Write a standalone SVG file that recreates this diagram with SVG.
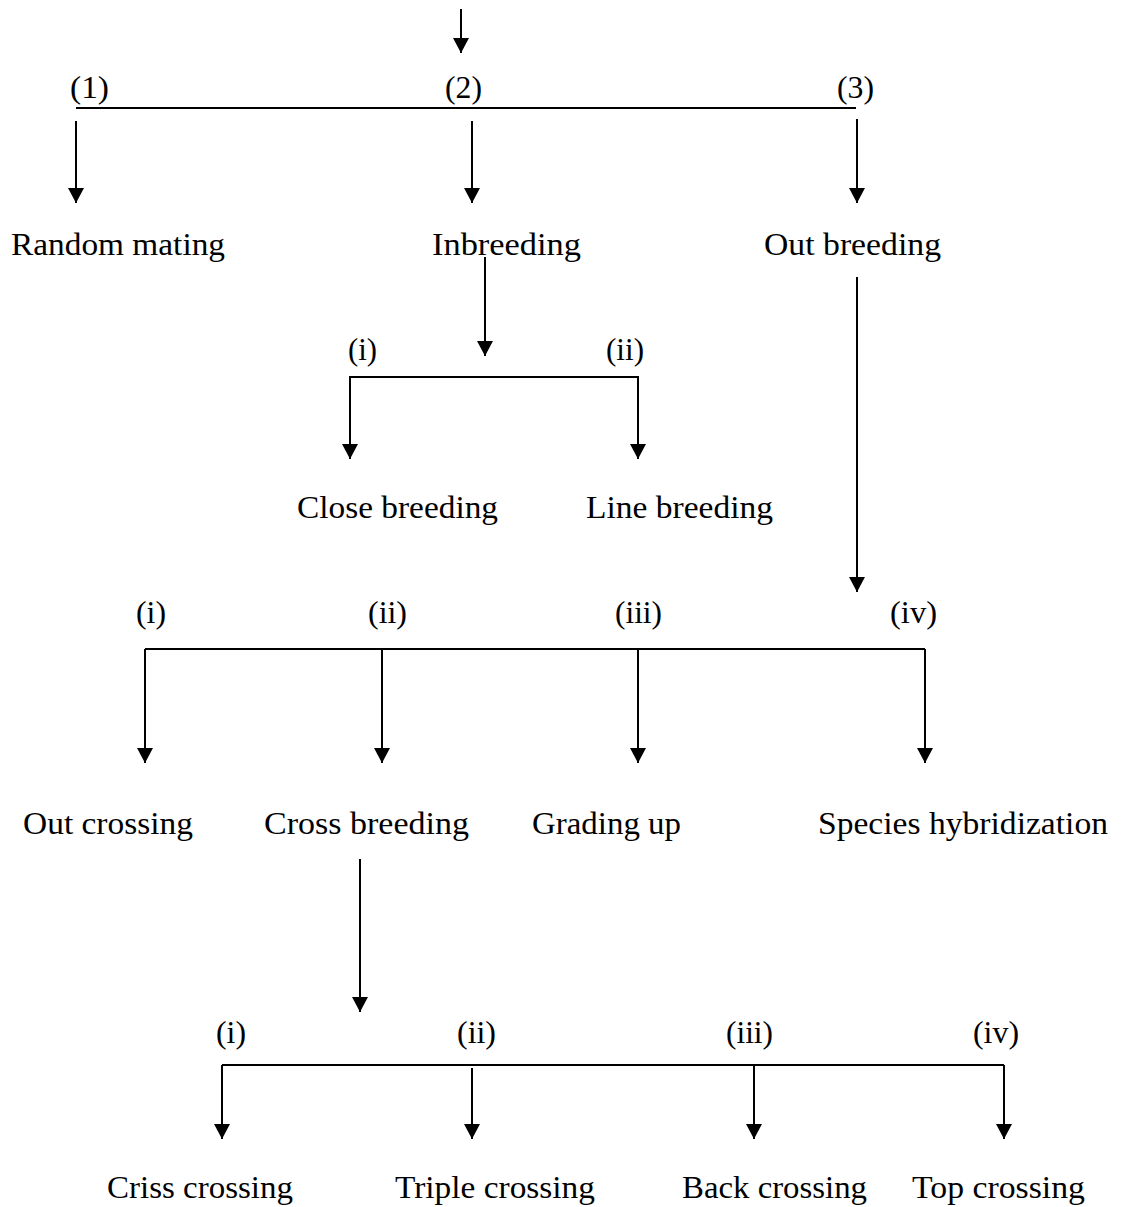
<svg xmlns="http://www.w3.org/2000/svg" width="1122" height="1207" viewBox="0 0 1122 1207">
  <style>
    .lbl { font-family: "Liberation Serif", "Times New Roman", serif; font-size: 32px; fill: #000; }
    .wire { stroke: #000; stroke-width: 2; fill: none; }
    .arrow { stroke: #000; stroke-width: 2; fill: none; marker-end: url(#head); }
  </style>
  <defs>
    <marker id="head" markerUnits="userSpaceOnUse" markerWidth="16" markerHeight="16" refX="15" refY="8" orient="auto">
      <path d="M0,0 L15,8 L0,16 Z" fill="#000"/>
    </marker>
  </defs>
  <rect width="1122" height="1207" fill="#fff"/>

  <!-- connectors -->
  <g id="connectors">
    <line class="arrow" x1="461" y1="9" x2="461" y2="53"/>
    <line class="wire" x1="76" y1="108" x2="856" y2="108"/>
    <line class="arrow" x1="76" y1="121" x2="76" y2="203"/>
    <line class="arrow" x1="472" y1="121" x2="472" y2="203"/>
    <line class="arrow" x1="857" y1="119" x2="857" y2="203"/>

    <line class="arrow" x1="485" y1="257" x2="485" y2="356"/>
    <path class="wire" d="M350,459 V377 H638 V459"/>
    <line class="arrow" x1="350" y1="378" x2="350" y2="459"/>
    <line class="arrow" x1="638" y1="378" x2="638" y2="459"/>

    <line class="arrow" x1="857" y1="277" x2="857" y2="592"/>
    <line class="wire" x1="145" y1="649" x2="925" y2="649"/>
    <line class="arrow" x1="145" y1="649" x2="145" y2="763"/>
    <line class="arrow" x1="382" y1="649" x2="382" y2="763"/>
    <line class="arrow" x1="638" y1="649" x2="638" y2="763"/>
    <line class="arrow" x1="925" y1="649" x2="925" y2="763"/>

    <line class="arrow" x1="360" y1="859" x2="360" y2="1012"/>
    <line class="wire" x1="222" y1="1065" x2="1004" y2="1065"/>
    <line class="arrow" x1="222" y1="1065" x2="222" y2="1139"/>
    <line class="arrow" x1="472" y1="1068" x2="472" y2="1139"/>
    <line class="arrow" x1="754" y1="1065" x2="754" y2="1139"/>
    <line class="arrow" x1="1004" y1="1065" x2="1004" y2="1139"/>
  </g>

  <!-- branch numbers -->
  <g id="idx-1"><text class="lbl" x="70" y="98" textLength="39" lengthAdjust="spacingAndGlyphs">(1)</text></g>
  <g id="idx-2"><text class="lbl" x="445" y="98" textLength="37" lengthAdjust="spacingAndGlyphs">(2)</text></g>
  <g id="idx-3"><text class="lbl" x="837" y="98" textLength="37" lengthAdjust="spacingAndGlyphs">(3)</text></g>

  <!-- first level -->
  <g id="random-mating"><text class="lbl" x="11" y="255" textLength="214" lengthAdjust="spacingAndGlyphs">Random mating</text></g>
  <g id="inbreeding"><text class="lbl" x="432" y="255" textLength="149" lengthAdjust="spacingAndGlyphs">Inbreeding</text></g>
  <g id="out-breeding"><text class="lbl" x="764" y="255" textLength="177" lengthAdjust="spacingAndGlyphs">Out breeding</text></g>

  <!-- inbreeding branches -->
  <g id="ib-i"><text class="lbl" x="348" y="360" textLength="29" lengthAdjust="spacingAndGlyphs">(i)</text></g>
  <g id="ib-ii"><text class="lbl" x="606" y="360" textLength="38" lengthAdjust="spacingAndGlyphs">(ii)</text></g>
  <g id="close-breeding"><text class="lbl" x="297" y="518" textLength="201" lengthAdjust="spacingAndGlyphs">Close breeding</text></g>
  <g id="line-breeding"><text class="lbl" x="586" y="518" textLength="187" lengthAdjust="spacingAndGlyphs">Line breeding</text></g>

  <!-- out breeding branches -->
  <g id="ob-i"><text class="lbl" x="136" y="623" textLength="30" lengthAdjust="spacingAndGlyphs">(i)</text></g>
  <g id="ob-ii"><text class="lbl" x="368" y="623" textLength="39" lengthAdjust="spacingAndGlyphs">(ii)</text></g>
  <g id="ob-iii"><text class="lbl" x="615" y="623" textLength="47" lengthAdjust="spacingAndGlyphs">(iii)</text></g>
  <g id="ob-iv"><text class="lbl" x="890" y="623" textLength="47" lengthAdjust="spacingAndGlyphs">(iv)</text></g>
  <g id="out-crossing"><text class="lbl" x="23" y="834" textLength="170" lengthAdjust="spacingAndGlyphs">Out crossing</text></g>
  <g id="cross-breeding"><text class="lbl" x="264" y="834" textLength="205" lengthAdjust="spacingAndGlyphs">Cross breeding</text></g>
  <g id="grading-up"><text class="lbl" x="532" y="834" textLength="149" lengthAdjust="spacingAndGlyphs">Grading up</text></g>
  <g id="species-hybridization"><text class="lbl" x="818" y="834" textLength="290" lengthAdjust="spacingAndGlyphs">Species hybridization</text></g>

  <!-- cross breeding branches -->
  <g id="cb-i"><text class="lbl" x="216" y="1043" textLength="30" lengthAdjust="spacingAndGlyphs">(i)</text></g>
  <g id="cb-ii"><text class="lbl" x="457" y="1043" textLength="39" lengthAdjust="spacingAndGlyphs">(ii)</text></g>
  <g id="cb-iii"><text class="lbl" x="726" y="1043" textLength="47" lengthAdjust="spacingAndGlyphs">(iii)</text></g>
  <g id="cb-iv"><text class="lbl" x="973" y="1043" textLength="46" lengthAdjust="spacingAndGlyphs">(iv)</text></g>
  <g id="criss-crossing"><text class="lbl" x="107" y="1198" textLength="186" lengthAdjust="spacingAndGlyphs">Criss crossing</text></g>
  <g id="triple-crossing"><text class="lbl" x="395" y="1198" textLength="200" lengthAdjust="spacingAndGlyphs">Triple crossing</text></g>
  <g id="back-crossing"><text class="lbl" x="682" y="1198" textLength="185" lengthAdjust="spacingAndGlyphs">Back crossing</text></g>
  <g id="top-crossing"><text class="lbl" x="912" y="1198" textLength="173" lengthAdjust="spacingAndGlyphs">Top crossing</text></g>
</svg>
